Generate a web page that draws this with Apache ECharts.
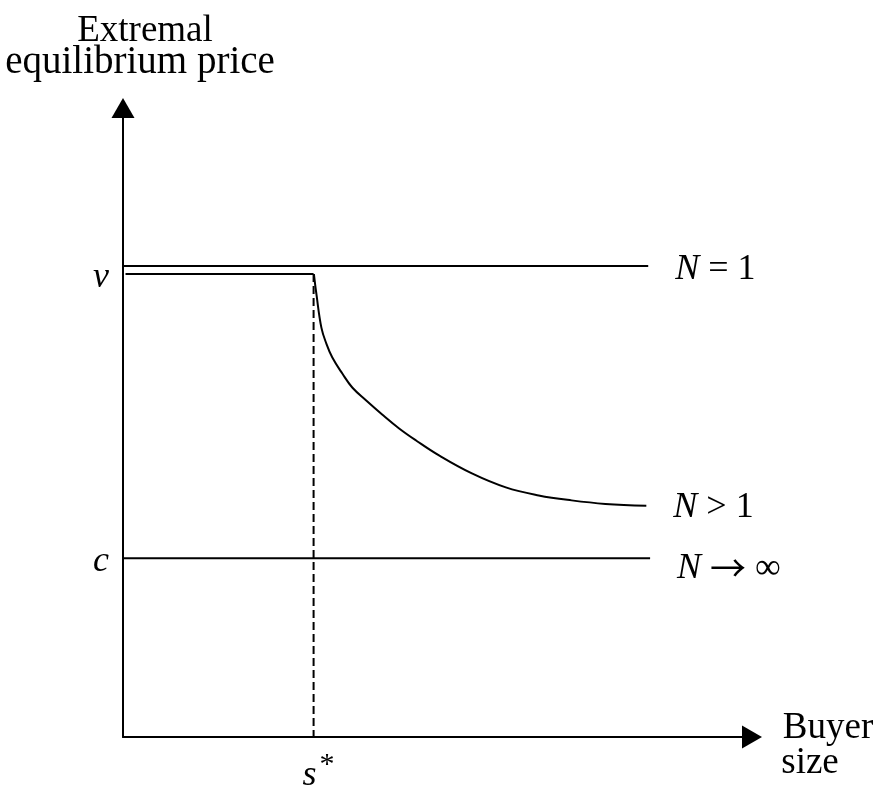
<!DOCTYPE html>
<html><head><meta charset="utf-8">
<script src="https://cdn.jsdelivr.net/npm/echarts@6/dist/echarts.min.js"></script>
<style>html,body{margin:0;padding:0;background:#fff}#c{width:882px;height:788px}</style>
</head><body><div id="c"></div>
<script>
// ---- data (axis units 0..100) ----
const xRange = [0, 100];
const yRange = [0, 100];
const sStar = 30.3;        // critical buyer size s*
const vLevel = 74.9;       // N = 1 price (v)
const flatLevel = 73.6;    // N > 1 price before s*
const cLevel = 28.4;       // N -> infinity price (c)
const lineEnd = 83.5;
const curveX = [30.35, 30.74, 31.54, 32.33, 33.28, 34.87, 36.45, 38.67, 41.20, 43.90, 46.59, 50.24, 55.47, 60.86, 66.09, 71.32, 76.70, 83.20];
const curveY = [73.6, 70.48, 65.08, 62.54, 60.32, 57.78, 55.56, 53.49, 51.27, 49.05, 47.14, 44.76, 41.90, 39.68, 38.41, 37.62, 37.06, 36.75];
const seriesLabels = ['{i|N} = 1', '{i|N} > 1', '{i|N} {ar|\u2192} \u221E'];
const yTitle = ['Extremal', 'equilibrium price'];
const xTitle = ['Buyer', 'size'];

const FONT = 'Liberation Serif';
const chart = echarts.init(document.getElementById('c'), null, {renderer: 'canvas'});
const lineStyle = {color: '#000', width: 2};
function endLabel(text, dy) {
  return {
    show: true, formatter: text, distance: 27, offset: [0, dy || 0],
    fontFamily: FONT, fontSize: 36, color: '#000',
    rich: {
      i: {fontFamily: FONT, fontSize: 36, fontStyle: 'italic', color: '#000'},
      ar: {fontFamily: 'Noto Sans CJK SC', fontSize: 36, color: '#000'}
    }
  };
}
const axisLine = {show: true, lineStyle: {color: '#000', width: 2}, symbol: ['none', 'triangle'], symbolSize: [23, 20]};
const option = {
  animation: false,
  backgroundColor: '#fff',
  grid: {left: 123, right: 130, top: 108, bottom: 51, containLabel: false},
  xAxis: {
    type: 'value', min: xRange[0], max: xRange[1], axisLine,
    axisTick: {show: false}, axisLabel: {show: false}, splitLine: {show: false}
  },
  yAxis: {
    type: 'value', min: yRange[0], max: yRange[1], axisLine,
    axisTick: {show: false}, axisLabel: {show: false}, splitLine: {show: false}
  },
  series: [
    {type: 'line', name: 'N=1', data: [[0, vLevel], [lineEnd, vLevel]], symbol: 'none', lineStyle, endLabel: endLabel(seriesLabels[0], 4)},
    {type: 'line', name: 'flat', data: [[0.4, flatLevel], [sStar, flatLevel]], symbol: 'none', lineStyle},
    {type: 'line', name: 'N>1', data: curveX.map((x, i) => [x, curveY[i]]), symbol: 'none', smooth: 0.4, lineStyle, endLabel: endLabel(seriesLabels[1], 2)},
    {type: 'line', name: 'Ninf', data: [[0, cLevel], [lineEnd + 0.3, cLevel]], symbol: 'none', lineStyle, endLabel: endLabel(seriesLabels[2], 10)},
    {type: 'line', name: 'sstar', data: [[sStar, flatLevel], [sStar, 0]], symbol: 'none', lineStyle: {color: '#000', width: 2, type: [8, 4]}}
  ]
};
chart.setOption(option);

const toPx = (p) => chart.convertToPixel({gridIndex: 0}, p);
const pV = toPx([0, vLevel]);
const pC = toPx([0, cLevel]);
const pS = toPx([sStar, 0]);
const pTop = toPx([0, yRange[1]]);
const pRight = toPx([xRange[1], 0]);
function txt(x, y, text, extra) {
  return {type: 'text', x, y, style: Object.assign({
    text, fontFamily: FONT, fontSize: 37, fill: '#000', align: 'center', verticalAlign: 'middle'
  }, extra || {})};
}
chart.setOption({graphic: [
  txt(pV[0] - 22, pV[1] + 12, 'v', {fontStyle: 'italic', fontSize: 36}),
  txt(pC[0] - 22, pC[1] + 3, 'c', {fontStyle: 'italic', fontSize: 36}),
  txt(pS[0] + 5, pS[1] + 39, '{s|s}{a|*}', {rich: {
    s: {fontFamily: FONT, fontSize: 36, fontStyle: 'italic', color: '#000'},
    a: {fontFamily: FONT, fontSize: 30, color: '#000', padding: [0, 0, 22, 3]}
  }}),
  txt(pTop[0] + 22, 31, yTitle[0]),
  txt(pTop[0] + 17, 63, yTitle[1], {fontSize: 39}),
  txt(pRight[0] + 76, 728, xTitle[0]),
  txt(pRight[0] + 58, 763, xTitle[1])
]});
</script>
</body></html>
